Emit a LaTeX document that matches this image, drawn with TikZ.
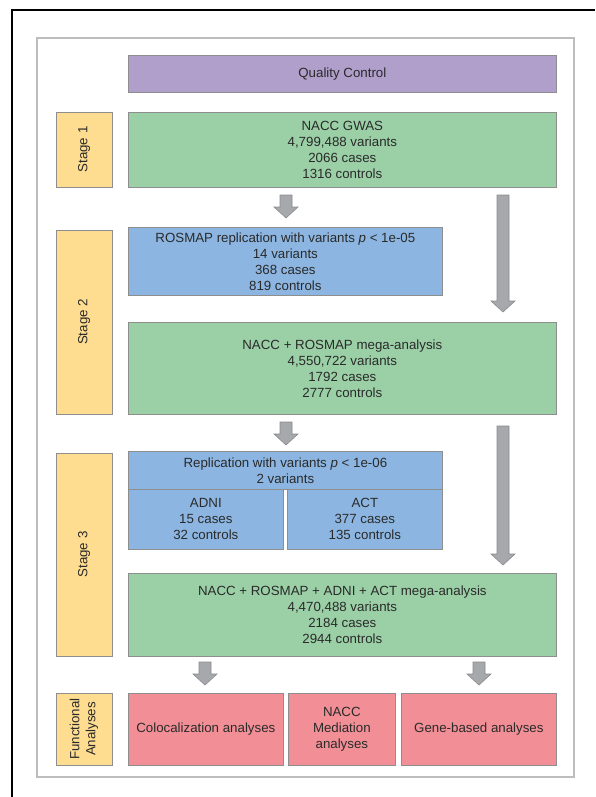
\documentclass[tikz,border=0pt]{standalone}
\usepackage{fontspec}
\setmainfont{Liberation Sans}
\definecolor{qc}{HTML}{B09FCB}
\definecolor{gr}{HTML}{9BD0A7}
\definecolor{bl}{HTML}{8CB6E1}
\definecolor{yl}{HTML}{FEDD90}
\definecolor{pk}{HTML}{F28F96}
\definecolor{edge}{HTML}{8E8E8E}
\definecolor{txt}{HTML}{2A2A2A}
\definecolor{arrf}{HTML}{A7A8AB}
\definecolor{arre}{HTML}{8A8B8E}
\definecolor{frame}{HTML}{BDBDBD}
\newcommand{\bxnode}[7]{%
  \node[box,fill=#6,minimum width={(#4)-(#2)},minimum height={(#5)-(#3)},anchor=north west] (#1) at (#2,#3) {#7};}
\newcommand{\blkarrow}[4]{% name, x, ytop, ybot
  \coordinate (#1) at (#2,#4);
  \filldraw[fill=arrf,draw=arre,line width=0.6] (#2-6,#3) -- (#2+6,#3) -- (#2+6,#4-11) -- (#2+12,#4-11) -- (#2,#4) -- (#2-12,#4-11) -- (#2-6,#4-11) -- cycle;}
\begin{document}
\begin{tikzpicture}[x=1pt,y=-1pt,
  box/.style={draw=edge,line width=0.7,inner sep=0pt,align=center,text=txt,
    font=\fontsize{13.3}{16}\selectfont},
  lbl/.style={box,fill=yl,rotate=90}]
\useasboundingbox (0,0) rectangle (595,797);
\fill[white] (0,0) rectangle (595,797);
\draw[line width=2.2] (12,797) -- (12,10) -- (595,10);
\draw[frame,line width=1.2] (37,38) rectangle (574,777);
% boxes
\bxnode{qcb}{128}{55}{556}{92}{qc}{Quality Control}
\bxnode{gwas}{128}{112}{556}{187}{gr}{NACC GWAS\\4,799,488 variants\\2066 cases\\1316 controls}
\bxnode{ros}{128}{227}{442}{295}{bl}{ROSMAP replication with variants \textit{p} < 1e-05\\14 variants\\368 cases\\819 controls}
\bxnode{mega}{128}{322}{556}{414}{gr}{NACC + ROSMAP mega-analysis\\4,550,722 variants\\1792 cases\\2777 controls}
\bxnode{repl}{128}{451}{442}{489}{bl}{Replication with variants \textit{p} < 1e-06\\2 variants}
\bxnode{adni}{128}{489}{283}{549}{bl}{ADNI\\15 cases\\32 controls}
\bxnode{act}{287}{489}{442}{549}{bl}{ACT\\377 cases\\135 controls}
\bxnode{megb}{128}{573}{556}{656}{gr}{NACC + ROSMAP + ADNI + ACT mega-analysis\\4,470,488 variants\\2184 cases\\2944 controls}
\bxnode{colo}{128}{693}{283}{765}{pk}{Colocalization analyses}
\bxnode{medi}{288}{693}{395}{765}{pk}{NACC\\Mediation\\analyses}
\bxnode{gene}{401}{693}{556}{765}{pk}{Gene-based analyses}
% stage labels
\node[lbl,minimum width=75,minimum height=56] (s1) at (84,149.5) {Stage 1};
\node[lbl,minimum width=184,minimum height=56] (s2) at (84,322) {Stage 2};
\node[lbl,minimum width=203,minimum height=56] (s3) at (84,554.5) {Stage 3};
\node[lbl,minimum width=72,minimum height=56] (s4) at (84,729) {Functional\\Analyses};
% arrows
\blkarrow{a1}{286}{195}{218}
\blkarrow{a2}{503}{195}{312}
\blkarrow{a3}{286}{422}{445}
\blkarrow{a4}{503}{426}{565}
\blkarrow{a5}{205}{662}{685}
\blkarrow{a6}{479}{662}{685}
\end{tikzpicture}
\end{document}
